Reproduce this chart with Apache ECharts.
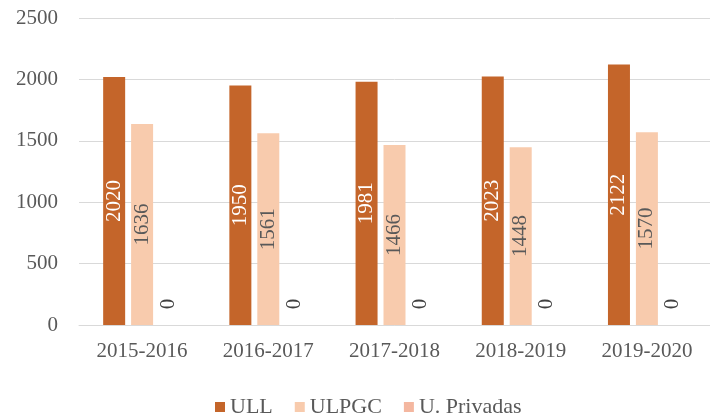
<!DOCTYPE html>
<html lang="es">
<head>
    <meta charset="UTF-8">
    <title>Chart</title>
    <script src="https://cdn.jsdelivr.net/npm/echarts@6/dist/echarts.min.js"></script>
</head>
<style>
    *{ margin: 0; padding: 0; }
    html, body{ width: 100%; height: 100%; overflow: hidden; background: #fff; }
    .container{ width: 710px; height: 416px; }
</style>
<body>
<div class="container"></div>
<script>
    let categories = ['2015-2016', '2016-2017', '2017-2018', '2018-2019', '2019-2020'];
    let ull = [2020, 1950, 1981, 2023, 2122];
    let ulpgc = [1636, 1561, 1466, 1448, 1570];
    let privadas = [0, 0, 0, 0, 0];
    let yTicks = [0, 500, 1000, 1500, 2000, 2500];

    let font = 'Liberation Serif';
    let mycharts = echarts.init(document.querySelector('.container'));

    let option = {
        animation: false,
        textStyle: { fontFamily: font },
        grid: { left: 79, top: 18, width: 640, height: 307 },
        legend: {
            left: 210,
            top: 391,
            itemWidth: 10,
            itemHeight: 10,
            itemGap: 22,
            icon: 'rect',
            textStyle: { fontFamily: font, fontSize: 22, color: '#595959' },
            data: ['ULL', 'ULPGC', 'U. Privadas']
        },
        xAxis: {
            type: 'category',
            data: categories,
            axisTick: { show: false },
            axisLine: { lineStyle: { color: '#d9d9d9' } },
            axisLabel: { fontFamily: font, fontSize: 21, color: '#595959', margin: 16 }
        },
        yAxis: {
            type: 'value',
            min: yTicks[0],
            max: yTicks[yTicks.length - 1],
            interval: 500,
            axisLabel: { fontFamily: font, fontSize: 21, color: '#595959', margin: 21, formatter: v => String(v) },
            splitLine: { lineStyle: { color: '#d9d9d9' } }
        },
        series: [
            {
                name: 'ULL', type: 'bar', data: ull, barWidth: 22, barGap: '27%',
                itemStyle: { color: '#c4652a' },
                label: { show: true, position: 'inside', rotate: 90, fontFamily: font, fontSize: 21, color: '#ffffff' }
            },
            {
                name: 'ULPGC', type: 'bar', data: ulpgc, barWidth: 22, barGap: '27%',
                itemStyle: { color: '#f8cbad' },
                label: { show: true, position: 'inside', rotate: 90, fontFamily: font, fontSize: 21, color: '#595959' }
            },
            {
                name: 'U. Privadas', type: 'bar', data: privadas, barWidth: 22, barGap: '27%',
                itemStyle: { color: '#f4b7a0' },
                label: { show: true, position: 'inside', rotate: 90, offset: [21, -2], fontFamily: font, fontSize: 21, color: '#404040' }
            }
        ]
    };
    mycharts.setOption(option);
</script>
</body>
</html>
